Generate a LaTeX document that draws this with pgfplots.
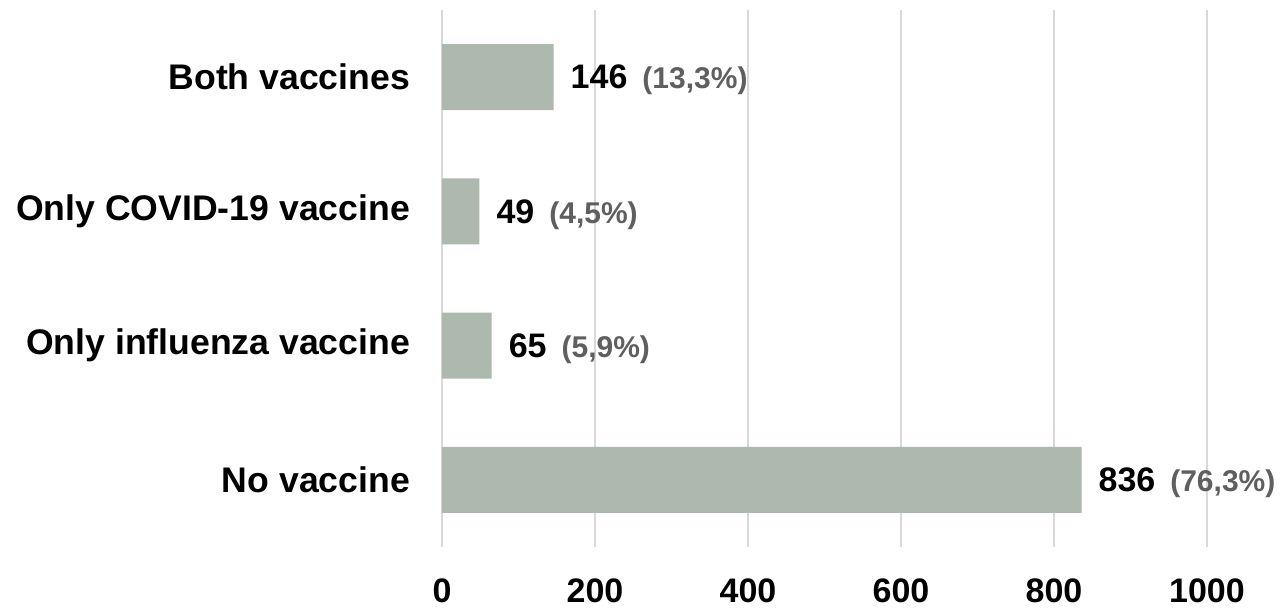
\documentclass[border=0pt]{standalone}
\usepackage{fontspec}
\setmainfont{Liberation Sans}
\usepackage{pgfplots}
\pgfplotsset{compat=1.18}
\definecolor{barcol}{HTML}{ADB8AE}
\definecolor{gridgray}{HTML}{D9D9D9}
\definecolor{pctgray}{HTML}{5F5F5F}
\newcommand{\pct}[1]{\hspace{7.5pt}{\fontsize{15}{17}\selectfont\color{pctgray}(#1\%)}}
\begin{document}
\begin{tikzpicture}
\begin{axis}[
  scale only axis,
  width=382.5pt, height=268.5pt,
  xbar, bar width=0.49,
  xmin=0, xmax=1000, ymin=-0.5, ymax=3.5,
  xtick={0,200,...,1000},
  ytick={0,1,2,3},
  yticklabels={No vaccine, Only influenza vaccine, Only COVID-19 vaccine, Both vaccines},
  xmajorgrids, ymajorgrids=false,
  grid style={draw=gridgray, line width=1pt},
  axis line style={draw=none},
  tick style={draw=none},
  major tick length=0pt,
  /pgf/number format/assume math mode=true,
  /pgf/number format/1000 sep={},
  xticklabel style={font=\fontsize{17}{20}\selectfont\bfseries, yshift=-12.5pt},
  yticklabel style={font=\fontsize{17.8}{20}\selectfont\bfseries, xshift=-12.5pt, anchor=east},
  clip=false,
  point meta=explicit symbolic,
  nodes near coords={\pgfplotspointmeta},
  every node near coord/.style={font=\fontsize{17}{20}\selectfont\bfseries, text=black, anchor=west, xshift=5pt, yshift=-1.5pt},
]
\addplot[fill=barcol, draw=none] coordinates {
  (146,3) [{146\pct{13,3}}]
  (49,2)  [{49\pct{4,5}}]
  (65,1)  [{65\pct{5,9}}]
  (836,0) [{836\pct{76,3}}]
};
\end{axis}
\pgfresetboundingbox
\path[use as bounding box] (-221pt,-32.5pt) rectangle (419.5pt,273.5pt);
\end{tikzpicture}
\end{document}
